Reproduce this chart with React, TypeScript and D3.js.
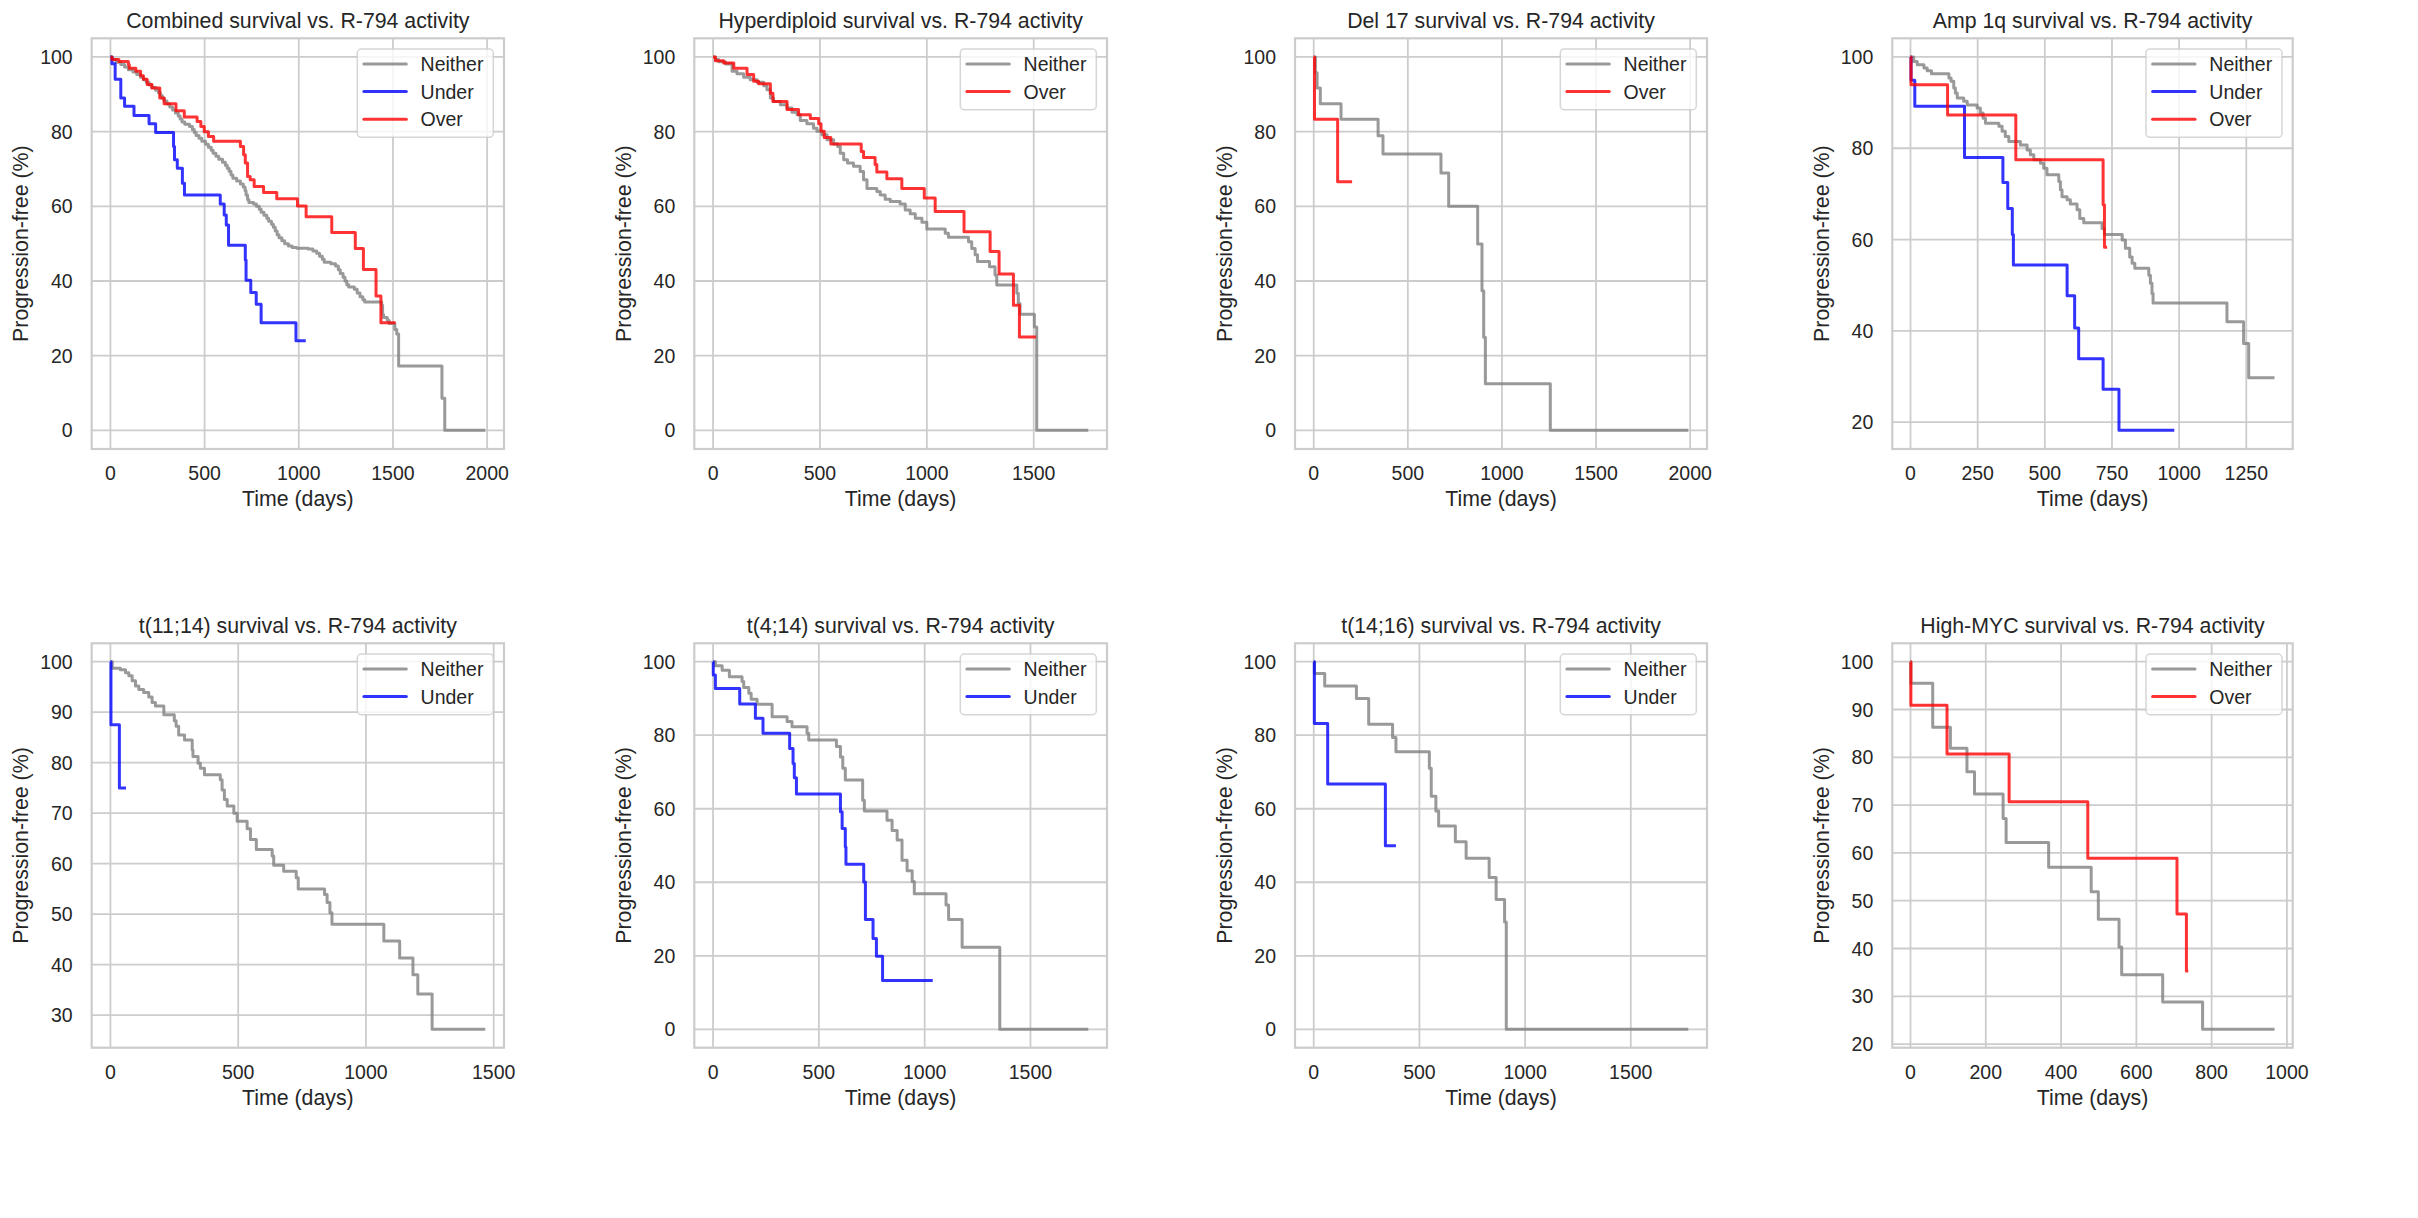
import React from 'react';
import * as d3 from 'd3';

type Step = [number, number];

// ---------- Data (time in days, progression-free %) ----------
const combinedNeither: Step[] = [[0,100],[10,99.3],[30,98.6],[55,98],[75,97.3],[95,96.6],[120,96],[140,95.3],[160,94.6],[175,93.9],[190,93.2],[205,92.5],[220,91.8],[240,91.1],[255,90.4],[265,89.7],[275,89],[285,88.2],[300,87.4],[315,86.6],[330,85.8],[345,85],[360,84.2],[370,83.4],[380,82.6],[395,82],[420,81.4],[435,80.6],[445,79.8],[455,79],[470,78.2],[485,77.4],[505,76.6],[520,75.8],[535,75],[545,74.2],[560,73.4],[575,72.6],[595,71.8],[610,71],[620,70.2],[630,69.4],[640,68.4],[650,67.5],[670,66.8],[690,66],[705,65.2],[715,64.2],[720,63],[728,61.8],[735,61],[760,60.6],[775,60],[790,59.2],[800,58.4],[815,57.6],[830,56.8],[840,56],[855,55.2],[865,54.4],[875,53.4],[885,52.4],[895,51.6],[910,50.8],[925,50],[945,49.4],[965,49],[990,48.8],[1050,48.6],[1075,48],[1095,47.4],[1110,46.6],[1125,45.8],[1135,45],[1170,44.6],[1195,44],[1210,43],[1220,42],[1235,41],[1245,40],[1255,39],[1265,38.4],[1295,37.8],[1310,36.8],[1325,35.8],[1340,35],[1350,34.4],[1440,33.5],[1445,31],[1450,30.2],[1470,29.4],[1480,28.6],[1510,27],[1520,25.8],[1530,17.2],[1760,8.6],[1775,0]];
const combinedNeitherEnd = 1990;
const combinedUnder: Step[] = [[0,100],[8,98.2],[25,94],[55,89],[75,86.8],[125,84.3],[205,82.1],[240,79.8],[335,76],[340,72.5],[355,70.2],[382,66.2],[393,63],[583,60.6],[604,57.7],[615,55],[627,49.6],[716,45.6],[720,40.2],[745,36.9],[774,33.8],[800,28.8],[985,24]];
const combinedUnderEnd = 1037;
const combinedOver: Step[] = [[0,100],[8,99.3],[45,98.8],[95,98],[100,97],[135,96.2],[160,95],[175,94],[195,92.6],[220,91.7],[262,89],[285,87.5],[348,85.6],[392,83.9],[460,82.7],[480,81.4],[498,80],[520,78.7],[548,77.4],[690,76],[707,73.8],[716,71.6],[728,68],[742,67.1],[763,65.3],[813,63.7],[883,62],[993,60.1],[1039,57.2],[1175,53],[1300,48.7],[1343,43.1],[1410,36],[1436,28.8]];
const combinedOverEnd = 1514;

const hyperNeither: Step[] = [[0,100],[11,99.3],[26,98.7],[58,98.1],[89,96.2],[112,95.5],[143,94.6],[174,93.9],[206,93.2],[237,92.3],[252,91.2],[268,89],[283,88.1],[315,87.2],[346,86.3],[369,85.2],[393,84.5],[408,83],[439,82.1],[470,80.9],[486,80.1],[509,79.2],[533,77.8],[564,76.7],[583,76],[595,74.2],[611,72.5],[629,71.6],[657,70.7],[688,69.3],[704,67.1],[720,64.8],[766,64],[782,63],[805,61.9],[829,61.3],[875,60.6],[899,59],[922,58],[946,56.8],[977,55.7],[1000,53.9],[1086,52.8],[1101,51.7],[1195,50.5],[1210,48.7],[1226,47],[1237,45.2],[1293,43.8],[1319,41.6],[1327,38.9],[1421,36.7],[1428,34],[1436,31.1],[1503,27.7],[1514,0]];
const hyperNeitherEnd = 1755;
const hyperOver: Step[] = [[0,100],[11,99],[50,98.4],[97,97],[159,95.3],[190,93.5],[213,92.8],[268,90.3],[280,88.1],[346,85.9],[400,84.5],[455,83.5],[494,82.1],[505,80.1],[520,78.4],[551,76.7],[693,74.7],[704,73.1],[758,71.2],[766,69.2],[813,67.4],[883,64.8],[988,62.2],[1039,58.6],[1174,53.2],[1296,47.9],[1338,41.9],[1405,33.5],[1433,25]];
const hyperOverEnd = 1511;

const del17Neither: Step[] = [[0,100],[9,95.8],[18,91.7],[35,87.5],[145,83.3],[342,78.9],[368,74],[676,68.9],[717,60],[871,49.9],[894,37.4],[903,24.9],[912,12.5],[1257,0]];
const del17NeitherEnd = 1990;
const del17Over: Step[] = [[0,100],[4,83.3],[127,66.6]];
const del17OverEnd = 204;

const amp1qNeither: Step[] = [[0,100],[12,99],[25,98.3],[50,97.6],[62,97],[78,96.3],[143,95.4],[151,94.7],[161,93.2],[167,92.1],[174,91],[198,90.3],[211,89.5],[248,88.8],[260,87.7],[270,86.6],[279,85.5],[329,84.8],[341,83.7],[353,82.6],[366,81.5],[409,80.7],[434,79.6],[446,78.6],[459,77.5],[484,76.7],[496,75.6],[508,74.2],[552,72.7],[558,70.9],[564,69.4],[583,68.7],[595,67.8],[620,66.5],[630,64.6],[645,63.7],[713,62.4],[722,61.1],[788,59.9],[800,58.1],[816,56.2],[825,54.8],[835,53.7],[887,52.2],[893,50.4],[899,48.2],[903,46.1],[1178,42],[1240,37.2],[1259,29.7]];
const amp1qNeitherEnd = 1355;
const amp1qUnder: Step[] = [[0,100],[2,94.9],[16,89.2],[201,78],[344,72.5],[362,66.8],[379,61.1],[383,54.4],[583,47.7],[611,40.6],[626,33.9],[717,27.2],[776,18.2]];
const amp1qUnderEnd = 982;
const amp1qOver: Step[] = [[0,100],[2,93.9],[138,87.3],[392,77.5],[717,67.6],[722,58.3]];
const amp1qOverEnd = 732;

const t1114Neither: Step[] = [[0,100],[7,98.7],[39,98.4],[59,97.8],[72,97.2],[85,96.2],[98,95.2],[111,94.5],[130,93.9],[150,93],[163,91.9],[176,91.2],[209,89.5],[250,88.3],[257,87.2],[267,85.5],[290,84.5],[320,82.5],[323,81.2],[343,79.9],[352,78.9],[368,77.6],[430,76.6],[437,74.6],[446,72.7],[457,71.4],[483,70],[496,68.4],[535,66.9],[548,64.8],[571,62.8],[633,61.5],[639,59.7],[678,58.5],[727,57.2],[735,55],[838,53.9],[848,52.3],[859,50.3],[867,48],[1070,44.7],[1132,41.3],[1184,38],[1203,34.2],[1259,27.2]];
const t1114NeitherEnd = 1467;
const t1114Under: Step[] = [[0,100],[2,87.5],[35,75]];
const t1114UnderEnd = 61;

const t414Neither: Step[] = [[0,100],[11,98.9],[43,97.7],[77,95.9],[137,94.6],[145,93],[169,91.4],[180,89.8],[208,88.4],[279,85],[350,83.7],[373,82.3],[444,80.5],[452,78.7],[583,76.9],[602,74.1],[613,71],[625,67.8],[707,62.3],[715,59.4],[822,56.9],[846,54.1],[870,51.5],[893,46],[917,43.1],[941,40.2],[951,36.9],[1101,33.8],[1113,29.9],[1177,22.3],[1355,0]];
const t414NeitherEnd = 1773;
const t414Under: Step[] = [[0,100],[1,96.4],[11,92.7],[126,88.5],[200,84.6],[236,80.5],[362,76.4],[378,72.3],[384,68.4],[394,64],[602,59.2],[610,54.6],[625,49.6],[628,44.9],[712,40.1],[720,29.9],[756,24.7],[772,19.9],[801,13.3]];
const t414UnderEnd = 1038;

const t1416Neither: Step[] = [[0,100],[3,96.8],[52,93.4],[202,90],[260,83],[373,79.4],[389,75.5],[547,71],[556,63.4],[578,59.4],[591,55.3],[670,51],[721,46.5],[830,41.3],[863,35.3],[903,29.2],[911,0]];
const t1416NeitherEnd = 1772;
const t1416Under: Step[] = [[0,100],[3,83.2],[66,66.7],[339,49.9]];
const t1416UnderEnd = 389;

const mycNeither: Step[] = [[0,100],[1,95.5],[59,86.3],[106,81.9],[150,77],[170,72.3],[246,67.2],[254,62.2],[367,57],[480,51.9],[499,46.1],[554,40.3],[561,34.5],[670,28.8],[776,23.1]];
const mycNeitherEnd = 967;
const mycOver: Step[] = [[0,100],[1,90.9],[97,80.7],[262,70.7],[471,58.9],[708,47.2],[733,35.3]];
const mycOverEnd = 738;

// Tick labels
const xTicks2000 = [0, 500, 1000, 1500, 2000];
const xTicks1500 = [0, 500, 1000, 1500];
const xTicks1250 = [0, 250, 500, 750, 1000, 1250];
const xTicks1000 = [0, 200, 400, 600, 800, 1000];
const yTicks0to100 = [0, 20, 40, 60, 80, 100];
const yTicks20to100 = [20, 40, 60, 80, 100];
const yTicks30to100 = [30, 40, 50, 60, 70, 80, 90, 100];
const yTicks20to100by10 = [20, 30, 40, 50, 60, 70, 80, 90, 100];

const titles = [
  'Combined survival vs. R-794 activity',
  'Hyperdiploid survival vs. R-794 activity',
  'Del 17 survival vs. R-794 activity',
  'Amp 1q survival vs. R-794 activity',
  't(11;14) survival vs. R-794 activity',
  't(4;14) survival vs. R-794 activity',
  't(14;16) survival vs. R-794 activity',
  'High-MYC survival vs. R-794 activity',
];

// ---------- Styles / layout ----------
const COLORS: Record<string, string> = { Neither: '#808080', Under: '#0000ff', Over: '#ff0000' };
const FONT = '"Liberation Sans", Arial, Helvetica, sans-serif';
const TEXT = '#262626';
const GRID = '#cccccc';

const colBoxes = [[91.7, 504], [694.3, 1107], [1295, 1707], [1892.3, 2292.7]];
const rowBoxes = [[38.3, 449], [643.3, 1047.7]];

type Series = { name: string; steps: Step[]; end: number };
type PanelDef = { title: string; series: Series[]; xTicks: number[]; yTicks: number[] };

const panels: PanelDef[] = [
  { title: titles[0], xTicks: xTicks2000, yTicks: yTicks0to100, series: [
    { name: 'Neither', steps: combinedNeither, end: combinedNeitherEnd },
    { name: 'Under', steps: combinedUnder, end: combinedUnderEnd },
    { name: 'Over', steps: combinedOver, end: combinedOverEnd } ] },
  { title: titles[1], xTicks: xTicks1500, yTicks: yTicks0to100, series: [
    { name: 'Neither', steps: hyperNeither, end: hyperNeitherEnd },
    { name: 'Over', steps: hyperOver, end: hyperOverEnd } ] },
  { title: titles[2], xTicks: xTicks2000, yTicks: yTicks0to100, series: [
    { name: 'Neither', steps: del17Neither, end: del17NeitherEnd },
    { name: 'Over', steps: del17Over, end: del17OverEnd } ] },
  { title: titles[3], xTicks: xTicks1250, yTicks: yTicks20to100, series: [
    { name: 'Neither', steps: amp1qNeither, end: amp1qNeitherEnd },
    { name: 'Under', steps: amp1qUnder, end: amp1qUnderEnd },
    { name: 'Over', steps: amp1qOver, end: amp1qOverEnd } ] },
  { title: titles[4], xTicks: xTicks1500, yTicks: yTicks30to100, series: [
    { name: 'Neither', steps: t1114Neither, end: t1114NeitherEnd },
    { name: 'Under', steps: t1114Under, end: t1114UnderEnd } ] },
  { title: titles[5], xTicks: xTicks1500, yTicks: yTicks0to100, series: [
    { name: 'Neither', steps: t414Neither, end: t414NeitherEnd },
    { name: 'Under', steps: t414Under, end: t414UnderEnd } ] },
  { title: titles[6], xTicks: xTicks1500, yTicks: yTicks0to100, series: [
    { name: 'Neither', steps: t1416Neither, end: t1416NeitherEnd },
    { name: 'Under', steps: t1416Under, end: t1416UnderEnd } ] },
  { title: titles[7], xTicks: xTicks1000, yTicks: yTicks20to100by10, series: [
    { name: 'Neither', steps: mycNeither, end: mycNeitherEnd },
    { name: 'Over', steps: mycOver, end: mycOverEnd } ] },
];

function Panel({ p, idx }: { p: PanelDef; idx: number }) {
  const [left, right] = colBoxes[idx % 4];
  const [top, bottom] = rowBoxes[Math.floor(idx / 4)];
  const xMax = d3.max(p.series, (s) => s.end) as number;
  const yMin = d3.min(p.series, (s) => d3.min(s.steps, (d) => d[1]) as number) as number;
  const yMax = 100;
  const xPad = xMax * 0.05;
  const yPad = (yMax - yMin) * 0.05;
  const x = d3.scaleLinear().domain([-xPad, xMax + xPad]).range([left, right]);
  const y = d3.scaleLinear().domain([yMin - yPad, yMax + yPad]).range([bottom, top]);
  const line = d3.line<Step>().x((d) => x(d[0])).y((d) => y(d[1])).curve(d3.curveStepAfter);
  const clipId = `clip${idx}`;
  const tickFs = 19.5;
  const labelFs = 21.3;
  const legW = 136;
  const legH = 27.6 * p.series.length + 5.5;
  const legX = right - 10.7 - legW;
  const legY = top + 10.7;
  const cx = (left + right) / 2;
  const cy = (top + bottom) / 2;
  return (
    <g>
      <defs>
        <clipPath id={clipId}>
          <rect x={left} y={top} width={right - left} height={bottom - top} />
        </clipPath>
      </defs>
      {p.xTicks.map((t) => (
        <line key={'gx' + t} x1={x(t)} x2={x(t)} y1={top} y2={bottom} stroke={GRID} strokeWidth={1.8} />
      ))}
      {p.yTicks.map((t) => (
        <line key={'gy' + t} x1={left} x2={right} y1={y(t)} y2={y(t)} stroke={GRID} strokeWidth={1.8} />
      ))}
      <g clipPath={`url(#${clipId})`}>
        {p.series.map((s) => (
          <path
            key={s.name}
            d={line([...s.steps, [s.end, s.steps[s.steps.length - 1][1]]]) as string}
            fill="none"
            stroke={COLORS[s.name]}
            strokeOpacity={0.8}
            strokeWidth={3}
            strokeLinejoin="round"
          />
        ))}
      </g>
      <rect x={left} y={top} width={right - left} height={bottom - top} fill="none" stroke={GRID} strokeWidth={2.2} />
      {p.xTicks.map((t) => (
        <text key={'tx' + t} x={x(t)} y={bottom + 31} textAnchor="middle" fontSize={tickFs} fill={TEXT} fontFamily={FONT}>
          {t}
        </text>
      ))}
      {p.yTicks.map((t) => (
        <text key={'ty' + t} x={left - 19} y={y(t)} dy="0.36em" textAnchor="end" fontSize={tickFs} fill={TEXT} fontFamily={FONT}>
          {t}
        </text>
      ))}
      <text x={cx} y={top - 10} textAnchor="middle" fontSize={labelFs} fill={TEXT} fontFamily={FONT}>
        {p.title}
      </text>
      <text x={cx} y={bottom + 57} textAnchor="middle" fontSize={labelFs} fill={TEXT} fontFamily={FONT}>
        Time (days)
      </text>
      <text
        transform={`translate(${left - 63.5},${cy}) rotate(-90)`}
        textAnchor="middle"
        fontSize={labelFs}
        fill={TEXT}
        fontFamily={FONT}
      >
        Progression-free (%)
      </text>
      <rect x={legX} y={legY} width={legW} height={legH} rx={4} ry={4} fill="#ffffff" fillOpacity={0.8} stroke="#cccccc" strokeOpacity={0.8} strokeWidth={1.5} />
      {p.series.map((s, i) => {
        const ry = legY + 15 + 27.6 * i;
        return (
          <g key={'leg' + s.name}>
            <line x1={legX + 6.6} x2={legX + 49} y1={ry} y2={ry} stroke={COLORS[s.name]} strokeOpacity={0.8} strokeWidth={3} strokeLinecap="round" />
            <text x={legX + 63.3} y={ry + 7} fontSize={tickFs} fill={TEXT} fontFamily={FONT}>
              {s.name}
            </text>
          </g>
        );
      })}
    </g>
  );
}

export default function App() {
  return (
    <svg
      width={2418}
      height={1218}
      viewBox="0 0 2418 1218"
      style={{ position: 'absolute', left: 0, top: 0, background: '#ffffff' }}
    >
      <rect x={0} y={0} width={2418} height={1218} fill="#ffffff" />
      {panels.map((p, i) => (
        <Panel key={i} p={p} idx={i} />
      ))}
    </svg>
  );
}
